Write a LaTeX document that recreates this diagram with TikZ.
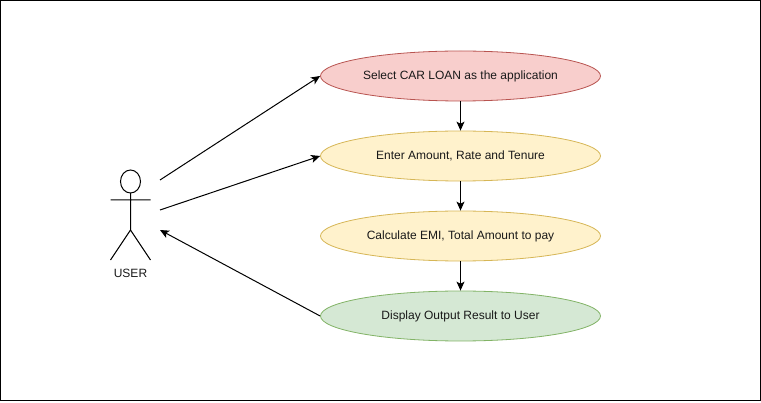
\documentclass[tikz,border=0pt]{standalone}
\usepackage{fontspec}
\setmainfont{Liberation Sans}
\usetikzlibrary{arrows.meta,shapes.geometric}
\definecolor{redfill}{HTML}{F8CECC}\definecolor{redline}{HTML}{B85450}
\definecolor{yelfill}{HTML}{FFF2CC}\definecolor{yelline}{HTML}{D6B656}
\definecolor{grnfill}{HTML}{D5E8D4}\definecolor{grnline}{HTML}{82B366}
\tikzset{
 usecase/.style={ellipse,draw,line width=0.8pt,minimum width=280pt,minimum height=50pt,inner sep=0pt,text=black!90,font=\fontsize{12}{14}\selectfont},
 redcase/.style={usecase,fill=redfill,draw=redline},
 yelcase/.style={usecase,fill=yelfill,draw=yelline},
 grncase/.style={usecase,fill=grnfill,draw=grnline},
 link/.style={draw=black,line width=1pt,-{Stealth[length=9pt,width=8pt,inset=2.2pt]}},
 actorline/.style={draw=black,line width=1pt}
}
\begin{document}
\begin{tikzpicture}[x=1pt,y=-1pt]
\useasboundingbox (0,0) rectangle (761,403);
\draw[black,line width=1.2pt] (0.6,0.6) rectangle (760.2,400.6);
\node[redcase] (a) at (460.5,76) {Select CAR LOAN as the application};
\node[yelcase] (b) at (460.5,156) {Enter Amount, Rate and Tenure};
\node[yelcase] (c) at (460.5,236) {Calculate EMI, Total Amount to pay};
\node[grncase] (d) at (460.5,316) {Display Output Result to User};
\node[inner sep=0pt,font=\fontsize{12}{14}\selectfont,text=black!90] (user) at (130.5,273.5) {USER};
\coordinate (neck) at (130.5,193);
\coordinate (hip) at (130.5,230);
\coordinate (armL) at (110.5,200);
\coordinate (armR) at (150.5,200);
\coordinate (legL) at (110.5,260);
\coordinate (legR) at (150.5,260);
\draw[actorline] (130.5,181.5) ellipse [x radius=10,y radius=11.5];
\draw[actorline] (neck) -- (hip) (armL) -- (armR) (legL) -- (hip) -- (legR);
\coordinate (u1) at (160,180);
\coordinate (u2) at (160,210);
\coordinate (u3) at (160,230);
\draw[link] (u1) -- (a.west);
\draw[link] (u2) -- (b.west);
\draw[link] (d.west) -- (u3);
\draw[link] (a) -- (b);
\draw[link] (b) -- (c);
\draw[link] (c) -- (d);
\end{tikzpicture}
\end{document}
